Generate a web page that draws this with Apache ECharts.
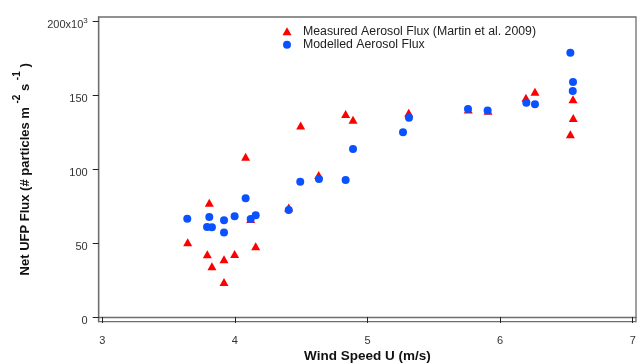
<!DOCTYPE html>
<html><head><meta charset="utf-8">
<script src="https://cdn.jsdelivr.net/npm/echarts@6/dist/echarts.min.js"></script>
<style>html,body{margin:0;padding:0;background:#fff}#c{width:637px;height:363px}</style>
</head><body><div id="c"></div>
<script>
const measuredU = [3.644, 3.807, 3.792, 3.827, 3.918, 3.918, 3.998, 4.081, 4.119, 4.157, 4.406, 4.496, 4.632, 4.835, 4.891, 5.311, 5.760, 5.909, 6.195, 6.263, 6.550, 6.552, 6.530];
const measuredFlux = [50.5, 77.2, 42.4, 34.2, 39.0, 23.6, 42.6, 108.3, 66.2, 47.8, 73.9, 129.3, 95.9, 137.2, 133.3, 138.0, 140.2, 139.4, 148.2, 152.2, 147.1, 134.5, 123.4];
const modelledU = [3.641, 3.807, 3.790, 3.827, 3.918, 3.918, 3.998, 4.081, 4.119, 4.157, 4.406, 4.493, 4.634, 4.835, 4.891, 5.268, 5.313, 5.758, 5.906, 6.198, 6.263, 6.530, 6.550, 6.548];
const modelledFlux = [66.4, 67.6, 60.8, 60.6, 65.3, 57.0, 68.0, 80.2, 66.2, 68.7, 72.3, 91.4, 93.2, 92.6, 113.5, 124.8, 134.7, 140.5, 139.6, 144.8, 143.7, 178.6, 158.8, 152.7];
const xTicks = [3, 4, 5, 6, 7];
const yTicks = [0, 50, 100, 150, 200];
const seriesNames = ['Measured Aerosol Flux (Martin et al. 2009)', 'Modelled Aerosol Flux'];

const chart = echarts.init(document.getElementById('c'), null, {renderer: 'canvas'});
const FONT = '"Liberation Sans", Arial, sans-serif';
const frameColor = '#6e6e6e';
const tickColor = '#222';
chart.setOption({
  animation: false,
  backgroundColor: '#fff',
  textStyle: {fontFamily: FONT},
  grid: {left: 98.7, right: 1, top: 17, bottom: 41.3, show: true, borderColor: frameColor, borderWidth: 1.3,
         outerBoundsMode: 'none', containLabel: false},
  legend: {
    orient: 'vertical', left: 277.5, top: 20.3, itemWidth: 9, itemHeight: 8, itemGap: 1.5,
    textStyle: {fontFamily: FONT, fontSize: 12.3, color: '#222', padding: [0, 0, 0, 6.5]},
    data: seriesNames
  },
  xAxis: {
    type: 'value', min: 2.973, max: 7.025,
    splitLine: {show: false},
    axisLine: {show: true, lineStyle: {color: frameColor, width: 1.3}},
    axisTick: {show: true, length: 6, customValues: xTicks, lineStyle: {color: tickColor}},
    axisLabel: {customValues: xTicks, margin: 14, fontSize: 11, color: '#333', fontFamily: FONT},
    name: 'Wind Speed U (m/s)', nameLocation: 'middle', nameGap: 28, nameMoveOverlap: false,
    nameTextStyle: {fontSize: 13.5, fontWeight: 'bold', color: '#111', fontFamily: FONT}
  },
  yAxis: {
    type: 'value', min: -3.2, max: 202.7,
    splitLine: {show: false},
    axisLine: {show: true, lineStyle: {color: frameColor, width: 1.3}},
    axisTick: {show: true, length: 6, customValues: yTicks, lineStyle: {color: tickColor}},
    axisLabel: {
      customValues: yTicks, margin: 11, fontSize: 11, color: '#333', fontFamily: FONT,
      formatter: function (v) { return v === 200 ? '{n|200x10}{s|3}' : '{n|' + v + '}'; },
      rich: {
        n: {fontSize: 11, color: '#333', fontFamily: FONT, verticalAlign: 'bottom', lineHeight: 19},
        s: {fontSize: 8, color: '#333', fontFamily: FONT, verticalAlign: 'top', lineHeight: 11, padding: [5, 0, 0, 0]}
      }
    },
    name: '{b|Net UFP Flux (# particles m }{s|-2}{b| s }{s|-1}{b| )}',
    nameLocation: 'middle', nameGap: 67, nameRotate: 90, nameMoveOverlap: false,
    nameTextStyle: {
      fontSize: 13, fontWeight: 'bold', color: '#111', fontFamily: FONT,
      rich: {
        b: {fontSize: 13, fontWeight: 'bold', color: '#111', fontFamily: FONT, verticalAlign: 'bottom', lineHeight: 19},
        s: {fontSize: 10, fontWeight: 'bold', color: '#111', fontFamily: FONT, verticalAlign: 'top', lineHeight: 11}
      }
    }
  },
  series: [
    {
      name: seriesNames[0], type: 'scatter', symbol: 'triangle', symbolSize: [9, 8],
      itemStyle: {color: '#ff0000', opacity: 1},
      data: measuredU.map((u, i) => [u, measuredFlux[i]])
    },
    {
      name: seriesNames[1], type: 'scatter', symbol: 'circle', symbolSize: 8,
      itemStyle: {color: '#0a52ff', opacity: 1},
      data: modelledU.map((u, i) => [u, modelledFlux[i]])
    }
  ]
});
</script>
</body></html>
